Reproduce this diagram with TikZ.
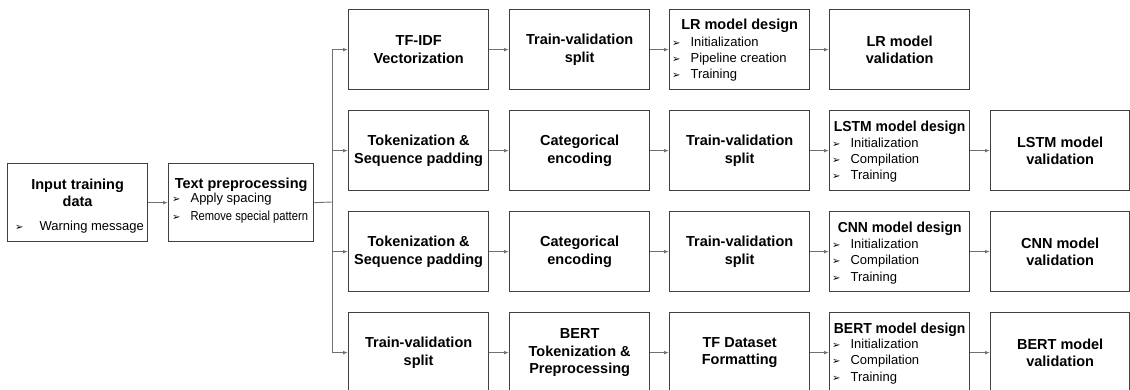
\documentclass[tikz,border=0pt]{standalone}
\usepackage{fontspec}
\setmainfont{Liberation Sans}
\newfontfamily\dvfont{DejaVu Sans}
\usetikzlibrary{arrows.meta}
\definecolor{boxgray}{HTML}{404040}
\definecolor{linegray}{HTML}{707070}
\newcommand\bul{{\dvfont\fontsize{10}{10}\selectfont ➢}\hspace{10pt}}
\tikzset{
  box/.style={draw=boxgray, line width=1.3pt, minimum width=140pt, minimum height=80pt,
    inner sep=0pt, anchor=north west, align=center,
    font=\fontsize{14.5}{17.5}\selectfont\bfseries},
  ttl/.style={anchor=base, inner sep=0pt, font=\fontsize{14.5}{17.5}\selectfont\bfseries},
  bls/.style={anchor=base west, inner sep=0pt, align=left, font=\fontsize{13}{16.2}\selectfont},
  conn/.style={draw=linegray, line width=0.9pt, -{Latex[length=5pt,width=3.6pt]}},
  plain/.style={draw=linegray, line width=0.9pt}
}
\begin{document}
\begin{tikzpicture}[x=1pt,y=-1pt]
\useasboundingbox[fill=white] (0,0) rectangle (1130,390);
\clip (0,0) rectangle (1130,390);
% left boxes
\node[box, minimum height=78pt] (inp) at (7,163) {};
\node[ttl, align=center] (inpt) at ([yshift=-44pt]inp.north) {Input training\\data};
\node[bls] (inpb) at ([xshift=8pt,yshift=-68pt]inp.north west) {\bul\hspace{6pt}Warning message};
\node[box, minimum width=145pt, minimum height=78pt] (tp) at (168,163) {};
\node[ttl] (tpt) at ([yshift=-26pt]tp.north) {Text preprocessing};
\node[bls, font=\fontsize{13}{18}\selectfont] (tpb) at ([xshift=4pt,yshift=-58pt]tp.north west) {\bul Apply spacing\\\bul\scalebox{0.86}[1]{Remove special pattern}};
\coordinate (br) at (332,202);
% row 1
\node[box] (r1a) at (348,9) {TF-IDF\\Vectorization};
\node[box] (r1b) at (509,9) {Train-validation\\split};
\node[box] (r1c) at (669,9) {};
\node[ttl] (r1ct) at ([yshift=-21pt]r1c.north) {LR model design};
\node[bls] (r1cb) at ([xshift=3pt,yshift=-70pt]r1c.north west) {\bul Initialization\\\bul Pipeline creation\\\bul Training};
\node[box] (r1d) at (829,9) {LR model\\validation};
% row 2
\node[box] (r2a) at (348,110) {Tokenization \&\\Sequence padding};
\node[box] (r2b) at (509,110) {Categorical\\encoding};
\node[box] (r2c) at (669,110) {Train-validation\\split};
\node[box] (r2d) at (829,110) {};
\node[ttl] (r2dt) at ([yshift=-22pt]r2d.north) {\scalebox{0.96}[1]{LSTM model design}};
\node[bls] (r2db) at ([xshift=3pt,yshift=-70pt]r2d.north west) {\bul Initialization\\\bul Compilation\\\bul Training};
\node[box, minimum width=139pt] (r2e) at (990,110) {LSTM model\\validation};
% row 3
\node[box] (r3a) at (348,211) {Tokenization \&\\Sequence padding};
\node[box] (r3b) at (509,211) {Categorical\\encoding};
\node[box] (r3c) at (669,211) {Train-validation\\split};
\node[box] (r3d) at (829,211) {};
\node[ttl] (r3dt) at ([yshift=-22pt]r3d.north) {\scalebox{0.96}[1]{CNN model design}};
\node[bls] (r3db) at ([xshift=3pt,yshift=-70pt]r3d.north west) {\bul Initialization\\\bul Compilation\\\bul Training};
\node[box, minimum width=139pt] (r3e) at (990,211) {CNN model\\validation};
% row 4
\node[box] (r4a) at (348,312) {Train-validation\\split};
\node[box] (r4b) at (509,312) {BERT\\Tokenization \&\\Preprocessing};
\node[box] (r4c) at (669,312) {TF Dataset\\Formatting};
\node[box] (r4d) at (829,312) {};
\node[ttl] (r4dt) at ([yshift=-21pt]r4d.north) {\scalebox{0.96}[1]{BERT model design}};
\node[bls] (r4db) at ([xshift=3pt,yshift=-69pt]r4d.north west) {\bul Initialization\\\bul Compilation\\\bul Training};
\node[box, minimum width=139pt] (r4e) at (990,312) {BERT model\\validation};
% connectors
\draw[conn] (inp.east) -- (tp.west);
\draw[plain] (tp.east) -- (br);
\draw[conn] (br) |- (r1a.west);
\draw[conn] (br) |- (r2a.west);
\draw[conn] (br) |- (r3a.west);
\draw[conn] (br) |- (r4a.west);
\draw[conn] (r1a) -- (r1b);
\draw[conn] (r1b) -- (r1c);
\draw[conn] (r1c) -- (r1d);
\draw[conn] (r2a) -- (r2b);
\draw[conn] (r2b) -- (r2c);
\draw[conn] (r2c) -- (r2d);
\draw[conn] (r2d) -- (r2e);
\draw[conn] (r3a) -- (r3b);
\draw[conn] (r3b) -- (r3c);
\draw[conn] (r3c) -- (r3d);
\draw[conn] (r3d) -- (r3e);
\draw[conn] (r4a) -- (r4b);
\draw[conn] (r4b) -- (r4c);
\draw[conn] (r4c) -- (r4d);
\draw[conn] (r4d) -- (r4e);
\end{tikzpicture}
\end{document}
